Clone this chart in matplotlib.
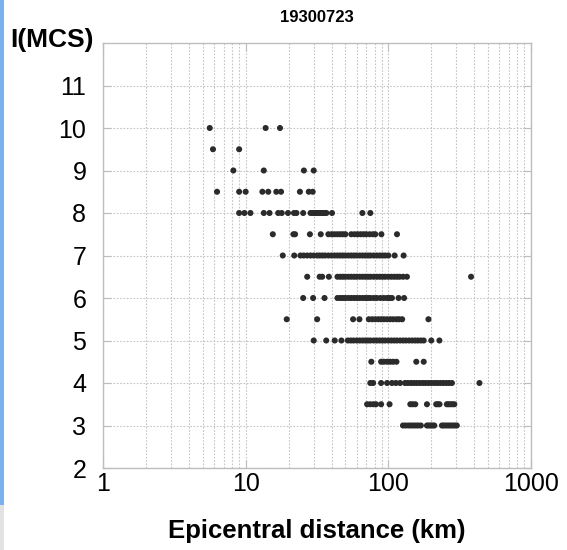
import matplotlib
matplotlib.use('Agg')
import matplotlib.pyplot as plt
from matplotlib.patches import Rectangle
from matplotlib.ticker import LogLocator, NullFormatter, FixedLocator
import numpy as np

plt.rcParams['font.family'] = ['Liberation Sans', 'DejaVu Sans']

TITLE = '19300723'
XLABEL = 'Epicentral distance (km)'
YLABEL = 'I(MCS)'

# epicentral distances (km), one list per intensity level
i10 = [5.6, 13.8, 17.4]
i95 = [5.9, 9.0]
i9 = [8.2, 13.4, 25.6, 30.0]
i85 = [6.3, 9.0, 10.0, 13.1, 14.4, 16.4, 17.7, 24.0, 27.7, 29.5]
i8 = [9.0, 9.8, 10.8, 13.4, 14.7, 16.9, 17.9, 19.8, 21.8, 22.7, 25.3,
      28.5, 29.5, 30.5, 31.5, 32.5, 33.5, 34.5, 35.5, 36.8, 40.3, 65.8, 74.8]
i75 = [15.5, 21.6, 22.2, 28.2, 33.6, 38, 40, 42, 44, 46, 48, 50,
       55, 58, 61, 64, 67, 70, 74, 78, 81, 89.4, 115]
i7 = [18.2, 21.9, 24.2, 25.5, 27, 28.5, 30, 31.7, 33, 34.5, 36, 38, 40, 42,
      44, 46, 48, 50, 52.5, 55, 57.5, 60, 63, 66, 69, 72, 75, 79, 83, 87, 91,
      95, 100, 110.7, 128]
i65 = [27.0, 33.0, 34.4, 38.3, 44, 46, 48, 50, 52.5, 55, 57.5, 60, 63, 66,
       69, 72, 75, 79, 83, 87, 91, 95, 100, 105, 110, 115, 120, 127, 135, 380]
i6 = [25.3, 29.7, 35.7, 44, 46, 48, 50, 52.5, 55, 57.5, 60, 63, 66, 69, 72,
      75, 79, 83, 88, 93, 98, 102, 106, 118, 129]
i55 = [19.4, 31.7, 56.6, 62.7, 73, 77, 81, 85, 89, 93, 98, 103, 108, 114,
       119, 125, 191]
i5 = [30.0, 36.7, 42.1, 46.9, 52, 54.5, 57, 60, 63, 66, 69, 72, 75, 79, 83,
      87, 91, 95, 100, 105, 110, 115, 121, 127, 133, 140, 147, 154, 161, 169,
      177, 200, 228]
i45 = [76, 89, 93, 98, 103, 108, 114, 157, 177]
i4 = [74.8, 78.2, 89, 98, 106, 113, 121, 131, 137, 144, 151, 158, 166, 174,
      182, 191, 200, 210, 220, 231, 242, 254, 266, 279, 435]
i35 = [71, 74.5, 78.5, 82, 89, 102, 142.6, 148, 154.5, 186.5, 216.5, 222,
       228.5, 257, 264, 272, 281, 290]
i3 = [126.7, 132, 138, 144, 150, 156, 162, 169, 186.5, 192, 198, 204, 210,
      237.6, 245, 254, 263, 272, 282, 292, 302]

levels = [10, 9.5, 9, 8.5, 8, 7.5, 7, 6.5, 6, 5.5, 5, 4.5, 4, 3.5, 3]
rows = [i10, i95, i9, i85, i8, i75, i7, i65, i6, i55, i5, i45, i4, i35, i3]

dist = np.concatenate([np.array(r, dtype=float) for r in rows])
inten = np.concatenate([np.full(len(r), lv) for r, lv in zip(rows, levels)])

fig = plt.figure(figsize=(5.67, 5.5), dpi=100)
ax = fig.add_axes([103/567, 1-468/550, (531-103)/567, (468-43)/550])

ax.scatter(dist, inten, s=19, color='#2b2b2b', edgecolors='none', zorder=3)

ax.set_xscale('log')
ax.set_xlim(1, 1000)
ax.set_ylim(2, 12)
ax.yaxis.set_major_locator(FixedLocator(range(2, 12)))
ax.xaxis.set_major_locator(LogLocator(base=10))
ax.xaxis.set_minor_locator(LogLocator(base=10, subs=range(2, 10)))
ax.xaxis.set_minor_formatter(NullFormatter())
ax.set_xticks([1, 10, 100, 1000], ['1', '10', '100', '1000'])

ax.grid(True, which='major', color='#c4c4c4', linestyle=(0, (1.5, 1.5)), linewidth=0.8)
ax.grid(True, which='minor', axis='x', color='#c4c4c4', linestyle=(0, (1.5, 1.5)), linewidth=0.8)
ax.set_axisbelow(True)

for s in ax.spines.values():
    s.set_color('#bdbdbd')
    s.set_linewidth(1.0)

ax.tick_params(which='major', direction='in', length=6, color='#bdbdbd',
               top=True, right=True, labelsize=18, pad=3)
ax.tick_params(which='minor', length=0)
ax.tick_params(axis='y', pad=12)

fig.text(317/567, 1-17/550, TITLE, ha='center', va='center', fontsize=12, fontweight='bold')
fig.text(52/567, 1-47/550, YLABEL, ha='center', va='baseline', fontsize=19, fontweight='bold')
fig.text(317/567, 1-538/550, XLABEL, ha='center', va='baseline', fontsize=18.5, fontweight='bold')

# screenshot edge
fig.patches.append(Rectangle((0, 1-505/550), 4/567, 505/550, transform=fig.transFigure,
                             facecolor='#79b2ee', edgecolor='none'))
fig.patches.append(Rectangle((0, 0), 4/567, 45/550, transform=fig.transFigure,
                             facecolor='#e2e2e2', edgecolor='none'))

fig.savefig('out.png', dpi=100)
